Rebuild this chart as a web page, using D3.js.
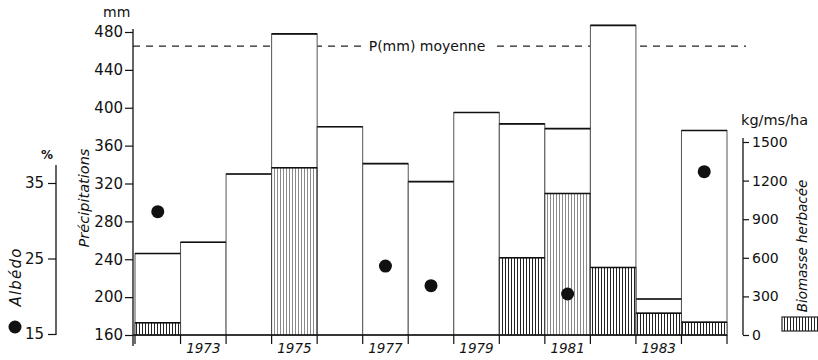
<!DOCTYPE html>
<html>
<head>
<meta charset="utf-8">
<script src="https://cdn.jsdelivr.net/npm/d3@7/dist/d3.min.js"></script>
<style>
  html, body { margin: 0; padding: 0; background: #fff; }
  svg { display: block; font-family: "DejaVu Sans", sans-serif; }
  text { fill: #111; }
</style>
</head>
<body>
<svg id="chart" width="818" height="360"></svg>
<script>
// Annual rainfall (mm), herbaceous biomass (kg dry matter / ha) and albedo (%)
const years = [1972, 1973, 1974, 1975, 1976, 1977, 1978, 1979, 1980, 1981, 1982, 1983, 1984];
const precipitation = [246, 258, 330, 478, 380, 341, 322, 395, 383, 378, 487, 198, 376];
const biomass = [95, null, null, 1300, null, null, null, null, 600, 1100, 525, 170, 100];
const albedo = [31.2, null, null, null, null, 24.0, 21.4, null, null, 20.3, null, null, 36.5];
const meanPrecipitation = 465;

const precipTicks = [160, 200, 240, 280, 320, 360, 400, 440, 480];
const albedoTicks = [15, 25, 35];
const biomassTicks = [0, 300, 600, 900, 1200, 1500];
const yearLabels = [1973, 1975, 1977, 1979, 1981, 1983];

// years whose hatching reproduced paler in the print
const paleHatchYears = [1975, 1981];

const svg = d3.select("#chart");
const ink = "#111";

const x = d3.scaleBand().domain(years).range([135, 727]).padding(0);
const yP = d3.scaleLinear().domain([160, 480]).range([335, 32]);
const yA = d3.scaleLinear().domain([15, 35]).range([334, 183]);
const yB = d3.scaleLinear().domain([0, 1500]).range([335, 142]);

// hatch patterns: vertical lines
const defs = svg.append("defs");
function hatch(id, color) {
  const p = defs.append("pattern").attr("id", id)
    .attr("patternUnits", "userSpaceOnUse").attr("width", 3).attr("height", 10);
  p.append("rect").attr("width", 3).attr("height", 10).attr("fill", "#fff");
  p.append("line").attr("x1", 1.5).attr("x2", 1.5).attr("y1", 0).attr("y2", 10)
    .attr("stroke", color).attr("stroke-width", 1);
}
hatch("hatch", "#222");
hatch("hatchPale", "#8a8a8a");

// mean rainfall reference line (behind the bars)
svg.append("line")
  .attr("x1", 133).attr("x2", 746)
  .attr("y1", yP(meanPrecipitation)).attr("y2", yP(meanPrecipitation))
  .attr("stroke", "#222").attr("stroke-width", 1.3)
  .attr("stroke-dasharray", "7,6");

const data = years.map((yr, i) => ({ yr, p: precipitation[i], b: biomass[i], a: albedo[i] }));

// rainfall bars
const bars = svg.append("g");
bars.selectAll("rect").data(data).join("rect")
  .attr("x", d => x(d.yr)).attr("width", x.bandwidth())
  .attr("y", d => yP(d.p)).attr("height", d => yP(160) - yP(d.p))
  .attr("fill", "#fff").attr("stroke", "#555").attr("stroke-width", 1);
bars.selectAll("line").data(data).join("line")
  .attr("x1", d => x(d.yr)).attr("x2", d => x(d.yr) + x.bandwidth())
  .attr("y1", d => yP(d.p)).attr("y2", d => yP(d.p))
  .attr("stroke", ink).attr("stroke-width", 1.6);

// biomass bars (hatched)
const bio = data.filter(d => d.b != null);
const bg = svg.append("g");
bg.selectAll("rect").data(bio).join("rect")
  .attr("x", d => x(d.yr)).attr("width", x.bandwidth())
  .attr("y", d => yB(d.b)).attr("height", d => yB(0) - yB(d.b))
  .attr("fill", d => paleHatchYears.includes(d.yr) ? "url(#hatchPale)" : "url(#hatch)")
  .attr("stroke", "#444").attr("stroke-width", 1);
bg.selectAll("line").data(bio).join("line")
  .attr("x1", d => x(d.yr)).attr("x2", d => x(d.yr) + x.bandwidth())
  .attr("y1", d => yB(d.b)).attr("y2", d => yB(d.b))
  .attr("stroke", ink).attr("stroke-width", 1.5);

// label on the mean line
const ml = svg.append("g");
const mlText = ml.append("text")
  .attr("x", 427).attr("y", yP(meanPrecipitation))
  .attr("text-anchor", "middle").attr("dominant-baseline", "central")
  .attr("font-size", 14).text("P(mm) moyenne");
const bb = mlText.node().getBBox();
ml.insert("rect", "text")
  .attr("x", bb.x - 6).attr("y", bb.y).attr("width", bb.width + 12).attr("height", bb.height)
  .attr("fill", "#fff");

// albedo points
svg.append("g").selectAll("circle").data(data.filter(d => d.a != null)).join("circle")
  .attr("cx", d => x(d.yr) + x.bandwidth() / 2).attr("cy", d => yA(d.a))
  .attr("r", 6.5).attr("fill", ink);

// bottom axis: baseline, ticks at year boundaries, odd-year labels
const base = svg.append("g");
base.append("line").attr("x1", 133).attr("x2", 727).attr("y1", 335).attr("y2", 335)
  .attr("stroke", ink).attr("stroke-width", 1.4);
const bounds = years.map(y => x(y)).concat([x(years[years.length - 1]) + x.bandwidth()]);
base.selectAll("line.tk").data(bounds).join("line").attr("class", "tk")
  .attr("x1", d => d).attr("x2", d => d).attr("y1", 335).attr("y2", 344)
  .attr("stroke", ink).attr("stroke-width", 1.2);
base.selectAll("text").data(yearLabels).join("text")
  .attr("x", d => x(d) + x.bandwidth() / 2).attr("y", 353)
  .attr("text-anchor", "middle").attr("font-size", 13.5).attr("font-style", "italic")
  .text(d => d);

// rainfall axis (left)
const axP = svg.append("g").attr("transform", "translate(133,0)")
  .call(d3.axisLeft(yP).tickValues(precipTicks).tickSize(8).tickPadding(2).tickSizeOuter(0));
axP.select(".domain").remove();
axP.append("line").attr("x1", 0).attr("x2", 0).attr("y1", 29).attr("y2", 346)
  .attr("stroke", ink).attr("stroke-width", 1.3);
axP.selectAll(".tick line").attr("stroke", ink).attr("stroke-width", 1.2);
axP.selectAll(".tick text").attr("font-size", 15).attr("font-family", "DejaVu Sans").attr("fill", ink);
svg.append("text").attr("x", 103).attr("y", 17).attr("font-size", 14).text("mm");
svg.append("text").attr("transform", "translate(89,198) rotate(-90)")
  .attr("text-anchor", "middle").attr("font-size", 14.5).attr("font-style", "italic")
  .text("Précipitations");

// albedo axis (far left)
const axA = svg.append("g").attr("transform", "translate(56,0)")
  .call(d3.axisLeft(yA).tickValues(albedoTicks).tickSize(8).tickPadding(4).tickSizeOuter(0));
axA.select(".domain").remove();
axA.append("line").attr("x1", 0).attr("x2", 0).attr("y1", 165).attr("y2", 335)
  .attr("stroke", ink).attr("stroke-width", 1.3);
axA.selectAll(".tick line").attr("stroke", ink).attr("stroke-width", 1.2);
axA.selectAll(".tick text").attr("font-size", 15).attr("font-family", "DejaVu Sans").attr("fill", ink);
svg.append("text").attr("x", 47).attr("y", 159).attr("text-anchor", "middle")
  .attr("font-size", 12).attr("font-weight", "bold").text("%");
svg.append("text").attr("transform", "translate(21,277) rotate(-90)")
  .attr("text-anchor", "middle").attr("font-size", 15).attr("font-style", "italic")
  .attr("letter-spacing", 1.2).text("Albédo");
svg.append("circle").attr("cx", 15).attr("cy", 327).attr("r", 6.5).attr("fill", ink);

// biomass axis (right)
const axB = svg.append("g").attr("transform", "translate(743,0)")
  .call(d3.axisRight(yB).tickValues(biomassTicks).tickFormat(d3.format("d"))
    .tickSize(6).tickPadding(3).tickSizeOuter(0));
axB.select(".domain").remove();
axB.append("line").attr("x1", 0).attr("x2", 0).attr("y1", 138).attr("y2", 335)
  .attr("stroke", ink).attr("stroke-width", 1.3);
axB.selectAll(".tick line").attr("stroke", ink).attr("stroke-width", 1.2);
axB.selectAll(".tick text").attr("font-size", 14).attr("font-family", "DejaVu Sans").attr("fill", ink);
svg.append("text").attr("x", 741).attr("y", 125).attr("font-size", 14.5).text("kg/ms/ha");
svg.append("text").attr("transform", "translate(807,246) rotate(-90)")
  .attr("text-anchor", "middle").attr("font-size", 13.5).attr("font-style", "italic")
  .text("Biomasse herbacée");
svg.append("rect").attr("x", 782).attr("y", 317).attr("width", 44).attr("height", 14)
  .attr("fill", "url(#hatch)").attr("stroke", "#222").attr("stroke-width", 1.2);
</script>
</body>
</html>
